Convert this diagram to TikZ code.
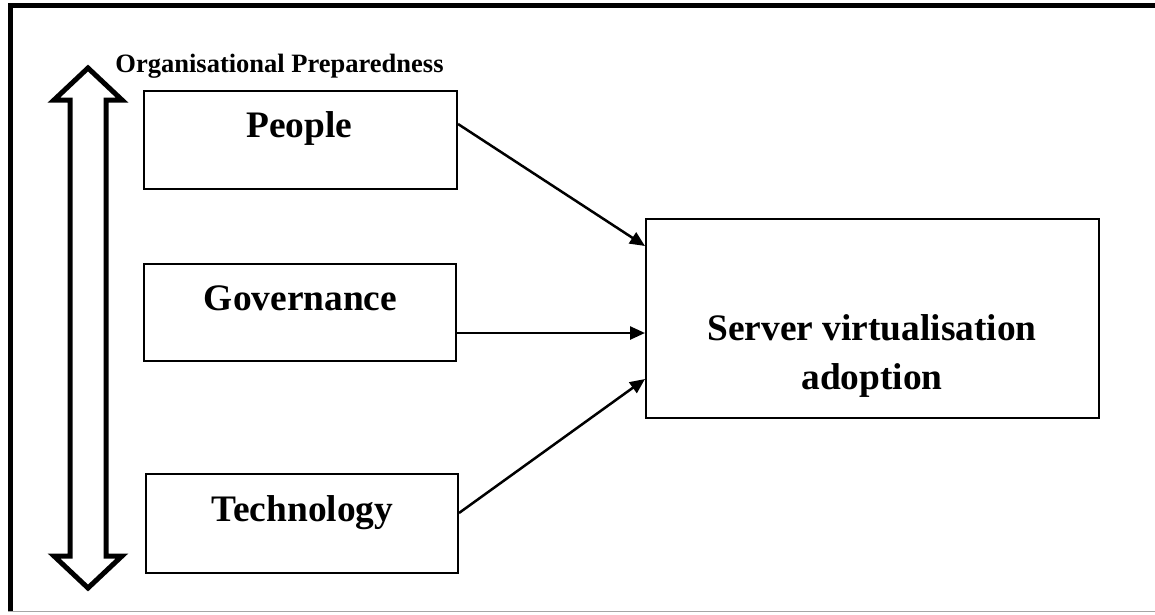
\documentclass[tikz,border=0pt]{standalone}
\usepackage{fontspec}
\setmainfont{Liberation Serif}
\usetikzlibrary{arrows.meta}
\tikzset{
  box/.style={draw, line width=2pt, rectangle, inner sep=0pt},
  bigtext/.style={anchor=base, inner sep=0pt, font=\fontsize{37.4}{46}\selectfont\bfseries},
  smalltext/.style={anchor=base, inner sep=0pt, font=\fontsize{26.5}{30}\selectfont\bfseries},
  link/.style={line width=2.5pt, -{Triangle[length=15pt,width=13pt]}},
}
\begin{document}
\begin{tikzpicture}[x=1pt, y=-1pt]
\useasboundingbox (0,0) rectangle (1155,614);

% frame
\draw[line width=5pt] (8,5.5) -- (1155,5.5);
\draw[line width=5pt] (10.5,3) -- (10.5,612);
\draw[line width=1.5pt, gray!70] (8,611.5) -- (1155,611.5);

% double-headed arrow at the left
\draw[line width=5pt, miter limit=20, line join=miter]
  (88,68) -- (122,100) -- (106,100) -- (106,556) -- (122,556) -- (88,588)
  -- (54,556) -- (70,556) -- (70,100) -- (54,100) -- cycle;

% heading
\node[smalltext] (prep) at (279.5,72) {Organisational Preparedness};

% factor boxes
\node[box, minimum width=313pt, minimum height=98pt] (people) at (300.5,140) {};
\node[bigtext] (peopleT) at (299.5,137) {People};

\node[box, minimum width=312pt, minimum height=97pt] (gov) at (300,312.5) {};
\node[bigtext] (govT) at (300.5,310) {Governance};

\node[box, minimum width=312pt, minimum height=99pt] (tech) at (302,523.5) {};
\node[bigtext] (techT) at (302.5,521) {Technology};

% outcome box
\node[box, minimum width=453pt, minimum height=199pt] (server) at (872.5,318.5) {};
\node[bigtext] (serverA) at (872,340) {Server virtualisation};
\node[bigtext] (serverB) at (872,389) {adoption};

% links
\draw[link] ([yshift=16pt]people.east) -- ([yshift=72.5pt]server.west);
\draw[link] ([yshift=-20.5pt]gov.east) -- ([yshift=-14.5pt]server.west);
\draw[link] ([yshift=10.5pt]tech.east) -- ([yshift=-60.5pt]server.west);
\end{tikzpicture}
\end{document}
